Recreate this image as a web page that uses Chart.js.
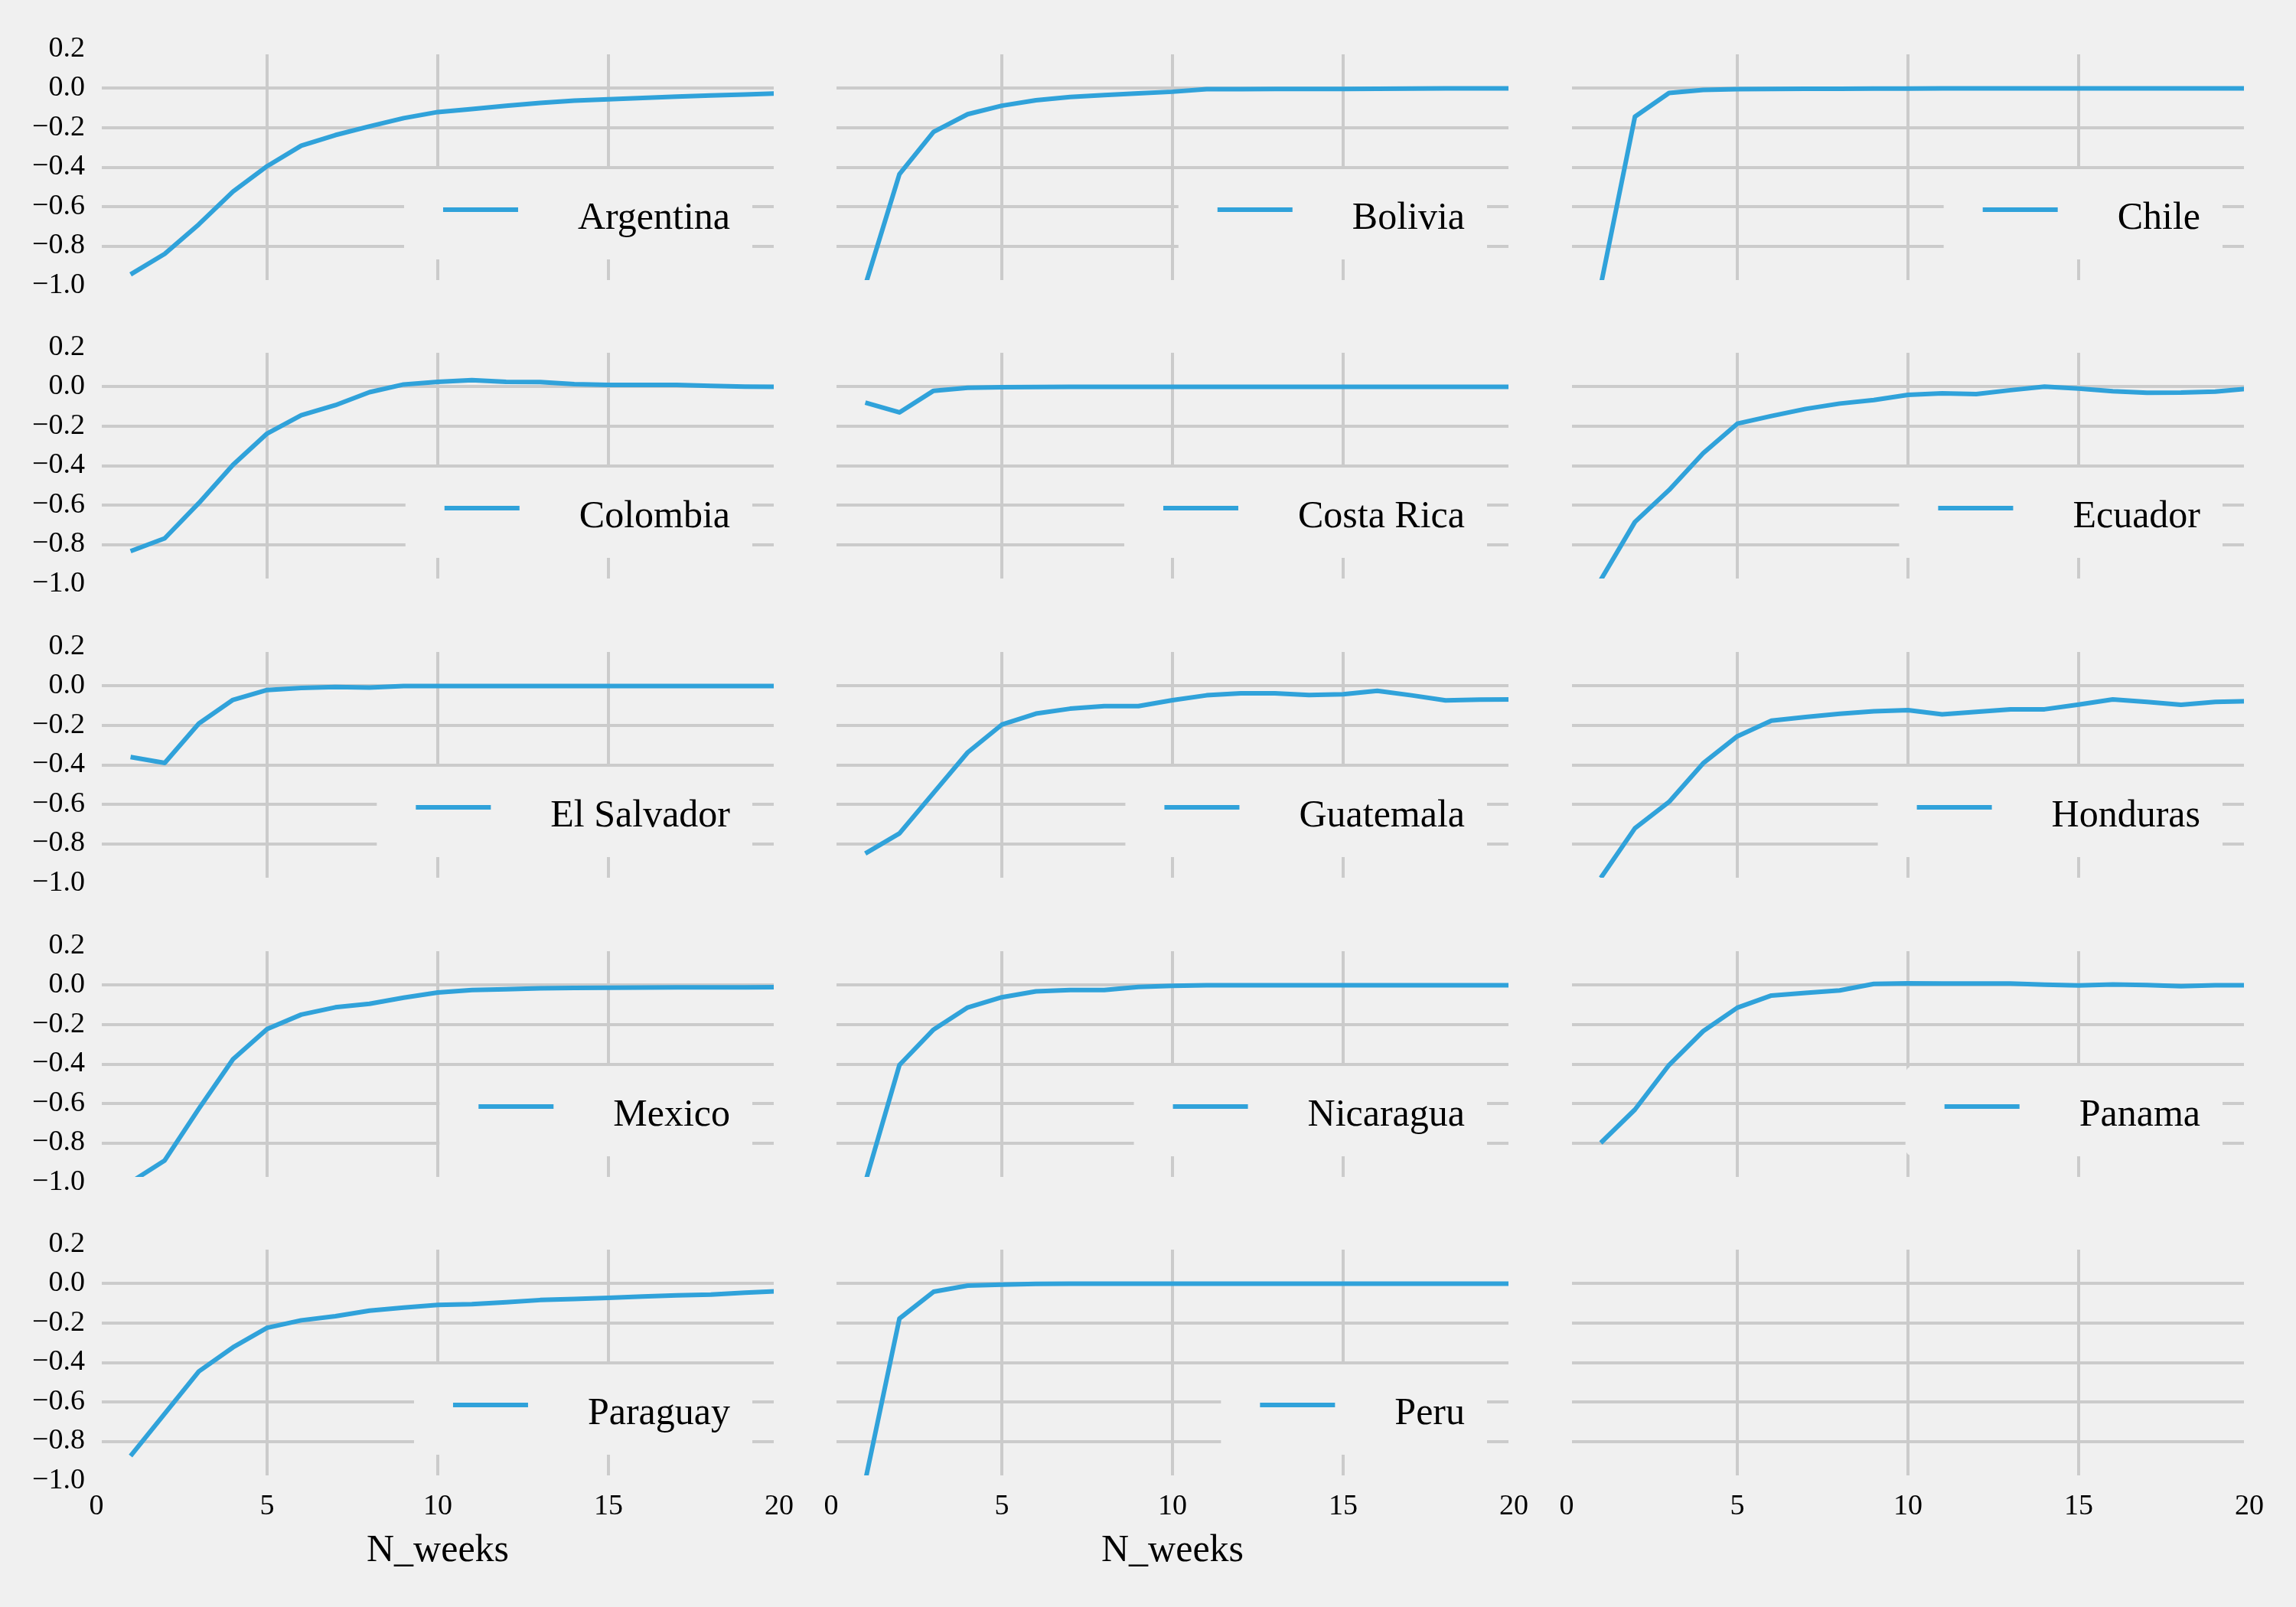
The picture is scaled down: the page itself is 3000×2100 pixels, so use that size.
<!DOCTYPE html>
<html>
<head>
<meta charset="utf-8">
<title>N_weeks panels</title>
<script src="https://cdn.jsdelivr.net/npm/chart.js@4.4.1/dist/chart.umd.min.js"></script>
<style>
  html, body { margin: 0; padding: 0; background: #f0f0f0; }
  #fig { position: relative; width: 3000px; height: 2100px; background: #f0f0f0; overflow: hidden; }
  #fig canvas { position: absolute; }
</style>
</head>
<body>
<div id="fig"></div>
<script>
// values, one array per country
const weeks = [1, 2, 3, 4, 5, 6, 7, 8, 9, 10, 11, 12, 13, 14, 15, 16, 17, 18, 19, 20];

const argentina = [-0.944, -0.84, -0.69, -0.524, -0.395, -0.291, -0.237, -0.193, -0.151, -0.12, -0.105, -0.088, -0.074, -0.062, -0.055, -0.049, -0.042, -0.036, -0.031, -0.025];
const bolivia = [-1.0, -0.435, -0.221, -0.131, -0.088, -0.06, -0.044, -0.034, -0.025, -0.017, -0.004, -0.004, -0.003, -0.003, -0.003, -0.002, -0.001, 0, 0, 0];
const chile = [-1.0, -0.144, -0.023, -0.008, -0.004, -0.003, -0.002, -0.002, -0.001, -0.001, 0, 0, 0, 0, 0, 0, 0, 0, 0, 0];
const colombia = [-0.834, -0.769, -0.59, -0.396, -0.237, -0.144, -0.093, -0.027, 0.012, 0.025, 0.034, 0.025, 0.024, 0.014, 0.01, 0.01, 0.01, 0.005, 0.001, 0];
const costaRica = [-0.08, -0.13, -0.02, -0.005, -0.002, -0.001, 0, 0, 0, 0, 0, 0, 0, 0, 0, 0, 0, 0, 0, 0];
const ecuador = [-0.98, -0.686, -0.524, -0.337, -0.187, -0.148, -0.112, -0.085, -0.067, -0.041, -0.033, -0.037, -0.017, 0.001, -0.009, -0.022, -0.03, -0.029, -0.024, -0.009];
const elSalvador = [-0.36, -0.39, -0.19, -0.07, -0.02, -0.01, -0.005, -0.008, 0, 0, 0, 0, 0, 0, 0, 0, 0, 0, 0, 0];
const guatemala = [-0.85, -0.748, -0.542, -0.337, -0.196, -0.14, -0.115, -0.102, -0.102, -0.072, -0.047, -0.037, -0.037, -0.046, -0.042, -0.024, -0.047, -0.073, -0.069, -0.068];
const honduras = [-0.974, -0.722, -0.588, -0.392, -0.255, -0.176, -0.157, -0.141, -0.128, -0.122, -0.144, -0.131, -0.118, -0.118, -0.094, -0.068, -0.081, -0.095, -0.081, -0.077];
const mexico = [-1.0, -0.889, -0.627, -0.376, -0.222, -0.149, -0.112, -0.094, -0.063, -0.037, -0.024, -0.02, -0.016, -0.014, -0.013, -0.012, -0.011, -0.011, -0.011, -0.01];
const nicaragua = [-1.0, -0.405, -0.225, -0.113, -0.061, -0.031, -0.024, -0.024, -0.009, -0.003, 0, 0, 0, 0, 0, 0, 0, 0, 0, 0];
const panama = [-0.8, -0.631, -0.405, -0.233, -0.114, -0.052, -0.039, -0.026, 0.007, 0.01, 0.009, 0.009, 0.009, 0.003, -0.001, 0.004, 0.001, -0.005, 0, 0];
const paraguay = [-0.874, -0.66, -0.445, -0.323, -0.224, -0.186, -0.165, -0.137, -0.121, -0.108, -0.104, -0.094, -0.083, -0.078, -0.072, -0.065, -0.059, -0.055, -0.046, -0.038];
const peru = [-1.0, -0.177, -0.041, -0.01, -0.005, -0.001, 0, 0, 0, 0, 0, 0, 0, 0, 0, 0, 0, 0, 0, 0];

const countries = ['Argentina', 'Bolivia', 'Chile', 'Colombia', 'Costa Rica', 'Ecuador',
    'El Salvador', 'Guatemala', 'Honduras', 'Mexico', 'Nicaragua', 'Panama', 'Paraguay', 'Peru'];
const series = [argentina, bolivia, chile, colombia, costaRica, ecuador,
    elSalvador, guatemala, honduras, mexico, nicaragua, panama, paraguay, peru];

const xTicks = [0, 5, 10, 15, 20];
const yTicks = [-1.0, -0.8, -0.6, -0.4, -0.2, 0.0, 0.2];
const xLabel = 'N_weeks';

// layout of the 5x3 grid (axes boxes, in page pixels)
const LINE_COLOR = '#30a2da';
const BG = '#f0f0f0';
const GRID = '#cbcbcb';
const SERIF = "'Liberation Serif', 'Times New Roman', serif";
const colLeft = [126, 1086, 2047];
const rowTop = [64, 454, 845, 1236, 1626];
const AX_W = 892, AX_H = 309;
const PAD_L = 120, PAD_T = 40, PAD_R = 40, PAD_B = 130;

Chart.defaults.font.family = SERIF;
Chart.defaults.color = '#000';

// thick background-coloured frame, like the hidden spines of the original
const spinePlugin = {
    id: 'spines',
    afterDatasetsDraw: function (chart) {
        const a = chart.chartArea;
        const ctx = chart.ctx;
        ctx.save();
        ctx.strokeStyle = BG;
        ctx.lineWidth = 14;
        ctx.strokeRect(a.left, a.top, a.right - a.left, a.bottom - a.top);
        ctx.restore();
    }
};

// lower-right legend box drawn from the dataset itself
const legendBoxPlugin = {
    id: 'legendBox',
    afterDraw: function (chart) {
        const ds = chart.data.datasets[0];
        if (!ds) return;
        const a = chart.chartArea;
        const ctx = chart.ctx;
        ctx.save();
        ctx.font = '50px ' + SERIF;
        const tw = ctx.measureText(ds.label).width;
        const w = 51 + 98 + 78 + tw + 29;
        const h = 118;
        const x0 = a.right - 35 - w;
        const y0 = a.bottom - 34 - h;
        ctx.fillStyle = BG;
        ctx.beginPath();
        ctx.roundRect(x0, y0, w, h, 10);
        ctx.fill();
        ctx.strokeStyle = ds.borderColor;
        ctx.lineWidth = ds.borderWidth;
        ctx.lineCap = 'butt';
        ctx.beginPath();
        ctx.moveTo(x0 + 51, y0 + 53);
        ctx.lineTo(x0 + 149, y0 + 53);
        ctx.stroke();
        ctx.fillStyle = '#000';
        ctx.textAlign = 'left';
        ctx.textBaseline = 'alphabetic';
        ctx.fillText(ds.label, x0 + 227, y0 + 78);
        ctx.restore();
    }
};

function fmtY(v) {
    return Number(v).toFixed(1).replace('-', '\u2212');
}

/**
 * Build one panel of the grid.
 */
function makePanel(row, col, name, vals) {
    const canvas = document.createElement('canvas');
    const w = AX_W + PAD_L + PAD_R;
    const h = AX_H + PAD_T + PAD_B;
    canvas.width = w;
    canvas.height = h;
    canvas.style.width = w + 'px';
    canvas.style.height = h + 'px';
    canvas.style.left = (colLeft[col] - PAD_L) + 'px';
    canvas.style.top = (rowTop[row] - PAD_T) + 'px';
    document.getElementById('fig').appendChild(canvas);

    const bottomRow = row === 4;
    const datasets = [];
    if (name) {
        datasets.push({
            label: name,
            data: weeks.map(function (wk, i) { return { x: wk, y: vals[i] }; }),
            borderColor: LINE_COLOR,
            backgroundColor: LINE_COLOR,
            borderWidth: 6,
            borderJoinStyle: 'round',
            pointRadius: 0,
            fill: false,
            tension: 0,
            clip: 0
        });
    }

    new Chart(canvas.getContext('2d'), {
        type: 'line',
        data: { datasets: datasets },
        plugins: [spinePlugin, legendBoxPlugin],
        options: {
            responsive: false,
            animation: false,
            devicePixelRatio: 1,
            layout: { padding: { left: 0, top: PAD_T, right: PAD_R, bottom: 0 } },
            plugins: { legend: { display: false }, tooltip: { enabled: false } },
            scales: {
                x: {
                    type: 'linear',
                    min: 0,
                    max: 20,
                    afterBuildTicks: function (s) { s.ticks = xTicks.map(function (v) { return { value: v }; }); },
                    afterFit: function (s) { s.height = PAD_B; },
                    grid: { color: GRID, lineWidth: 4, drawTicks: false },
                    border: { display: false },
                    ticks: { display: bottomRow, font: { family: SERIF, size: 38 }, padding: 11, maxRotation: 0, autoSkip: false },
                    title: { display: bottomRow && !!name, text: xLabel, font: { family: SERIF, size: 50 }, padding: { top: 0, bottom: 8 } }
                },
                y: {
                    type: 'linear',
                    min: -1.0,
                    max: 0.2,
                    afterBuildTicks: function (s) { s.ticks = yTicks.map(function (v) { return { value: v }; }); },
                    afterFit: function (s) { s.width = PAD_L; },
                    grid: { color: GRID, lineWidth: 4, drawTicks: false },
                    border: { display: false },
                    ticks: { display: col === 0, font: { family: SERIF, size: 38 }, padding: 15, callback: fmtY }
                }
            }
        }
    });
}

for (let k = 0; k < 15; k++) {
    const row = Math.floor(k / 3);
    const col = k % 3;
    makePanel(row, col, countries[k], series[k]);
}
</script>
</body>
</html>
